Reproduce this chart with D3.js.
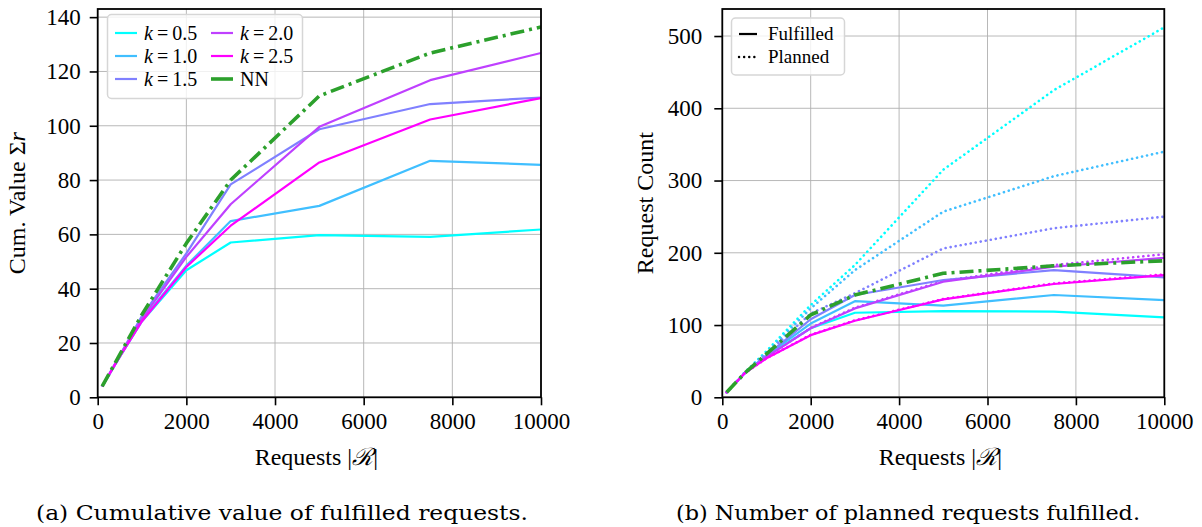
<!DOCTYPE html>
<html><head><meta charset="utf-8">
<script src="https://cdn.jsdelivr.net/npm/d3@7"></script>
<style>
body{margin:0;background:#fff;}
svg text{font-family:"Liberation Serif","Times New Roman",serif;fill:#000;}
</style></head>
<body><svg id="c" width="1202" height="527"></svg>
<script>
const xs = [100, 500, 1000, 2000, 3000, 5000, 7500, 10000];
const kLabels = ["0.5", "1.0", "1.5", "2.0", "2.5"];
const colors = ["#00ffff", "#40bfff", "#8080ff", "#bf40ff", "#ff00ff"];
const nnColor = "#2ca02c";
// (a) cumulative value
const valK05 = [4, 15, 28, 46.8, 57, 59.7, 59.1, 61.8];
const valK10 = [4, 15, 28.5, 48.5, 64.9, 70.5, 87.1, 85.6];
const valK15 = [4, 15.5, 30, 53, 78.4, 98.7, 108, 110.4];
const valK20 = [4, 15.5, 29, 51.7, 71.1, 99.6, 116.8, 126.8];
const valK25 = [4, 15, 28, 48, 63.2, 86.5, 102.3, 110.2];
const valNN  = [4, 15.8, 30.5, 56.7, 80, 111, 126.8, 136.4];
// (b) fulfilled counts
const fulK05 = [7, 33, 57, 95.5, 117, 119.4, 118.5, 110.7];
const fulK10 = [7, 33, 58, 102, 133, 126.8, 141.6, 134.6];
const fulK15 = [7, 33, 58, 108, 141.6, 162.3, 176, 166];
const fulK20 = [7, 33, 56, 95.5, 123, 160, 180.7, 193];
const fulK25 = [7, 33, 54, 86, 106, 135.6, 156.8, 169];
const fulNN  = [7, 33, 60, 114, 141.6, 171.6, 182, 189];
// (b) planned counts
const plaK05 = [7, 34, 64, 127.7, 183, 315, 425, 512];
const plaK10 = [7, 34, 62, 123, 176, 257, 306, 340];
const plaK15 = [7, 33, 60, 116, 144, 206, 234, 250];
const plaK20 = [7, 33, 56, 96, 124, 161, 183, 198];
const plaK25 = [7, 33, 54, 86.5, 106.5, 136, 157.5, 170];

const yTicksA = [0, 20, 40, 60, 80, 100, 120, 140];
const yTicksB = [0, 100, 200, 300, 400, 500];
const xTicks = [0, 2000, 4000, 6000, 8000, 10000];

const svg = d3.select("#c");

function panel(cfg) {
  const g = svg.append("g");
  const x = d3.scaleLinear().domain([0, 10000]).range([cfg.left, cfg.right]);
  const y = d3.scaleLinear().domain([0, cfg.ymax]).range([cfg.bottom, cfg.top]);
  g.append("g").selectAll("line").data(xTicks).join("line")
    .attr("x1", d => x(d)).attr("x2", d => x(d)).attr("y1", cfg.top).attr("y2", cfg.bottom)
    .attr("stroke", "#b0b0b0").attr("stroke-width", 0.9);
  g.append("g").selectAll("line").data(cfg.yTicks).join("line")
    .attr("y1", d => y(d)).attr("y2", d => y(d)).attr("x1", cfg.left).attr("x2", cfg.right)
    .attr("stroke", "#b0b0b0").attr("stroke-width", 0.9);
  const clip = "clip" + cfg.id;
  svg.append("clipPath").attr("id", clip).append("rect")
    .attr("x", cfg.left).attr("y", cfg.top).attr("width", cfg.right - cfg.left).attr("height", cfg.bottom - cfg.top);
  const lines = g.append("g").attr("clip-path", `url(#${clip})`);
  const line = d3.line().x((d, i) => x(xs[i])).y(d => y(d));
  cfg.series.forEach(s => {
    lines.append("path").attr("d", line(s.v)).attr("fill", "none")
      .attr("stroke", s.c).attr("stroke-width", s.w)
      .attr("stroke-dasharray", s.dash || null)
      .attr("stroke-linecap", s.cap || "butt")
      .attr("stroke-linejoin", "round");
  });
  const xa = g.append("g").attr("transform", `translate(0,${cfg.bottom})`)
    .call(d3.axisBottom(x).tickValues(xTicks).tickSize(8).tickPadding(7).tickFormat(d3.format("d")));
  const ya = g.append("g").attr("transform", `translate(${cfg.left},0)`)
    .call(d3.axisLeft(y).tickValues(cfg.yTicks).tickSize(8).tickPadding(cfg.ypad).tickFormat(d3.format("d")));
  [xa, ya].forEach(a => {
    a.attr("font-family", null).attr("font-size", null);
    a.select(".domain").remove();
    a.selectAll("line").attr("stroke", "#000").attr("stroke-width", 1.6);
    a.selectAll("text").style("font-family", '"Liberation Serif",serif').style("font-size", "23px").attr("fill", "#000");
  });
  g.append("rect").attr("x", cfg.left).attr("y", cfg.top).attr("width", cfg.right - cfg.left)
    .attr("height", cfg.bottom - cfg.top).attr("fill", "none").attr("stroke", "#000").attr("stroke-width", 1.8);
  const xl = g.append("text").attr("x", (cfg.left + cfg.right) / 2 - 3).attr("y", 465)
    .attr("text-anchor", "middle").style("font-size", "24px");
  xl.append("tspan").text("Requests |");
  xl.append("tspan").text("ℛ").style("font-style", "italic");
  xl.append("tspan").text("|");
  const yl = g.append("text").attr("transform", `translate(${cfg.ylx},${(cfg.top + cfg.bottom) / 2}) rotate(-90)`)
    .attr("text-anchor", "middle").style("font-size", "24px");
  cfg.ylabel(yl);
  g.append("text").attr("x", cfg.capx).attr("y", 520).attr("text-anchor", "middle")
    .style("font-family", '"DejaVu Serif",serif').style("font-size", "20px").attr("textLength", cfg.capw)
    .attr("lengthAdjust", "spacingAndGlyphs").text(cfg.caption);
  return g;
}

panel({
  id: "a", left: 97.7, right: 541, top: 9, bottom: 397.3, ymax: 143, yTicks: yTicksA, ylx: 25, ypad: 9,
  ylabel: t => { t.append("tspan").text("Cum. Value Σ"); t.append("tspan").text("r").style("font-style", "italic"); },
  capx: 282, capw: 492, caption: "(a) Cumulative value of fulfilled requests.",
  series: [
    {v: valK05, c: colors[0], w: 2.2},
    {v: valK10, c: colors[1], w: 2.2},
    {v: valK15, c: colors[2], w: 2.2},
    {v: valK20, c: colors[3], w: 2.2},
    {v: valK25, c: colors[4], w: 2.2},
    {v: valNN, c: nnColor, w: 3.6, dash: "14,5,3,5"}
  ]
});

panel({
  id: "b", left: 722.3, right: 1164.3, top: 9, bottom: 397.3, ymax: 537.4, yTicks: yTicksB, ylx: 653, ypad: 12,
  ylabel: t => t.text("Request Count"),
  capx: 908, capw: 464, caption: "(b) Number of planned requests fulfilled.",
  series: [
    {v: plaK05, c: colors[0], w: 2.6, dash: "0.1,5", cap: "round"},
    {v: plaK10, c: colors[1], w: 2.6, dash: "0.1,5", cap: "round"},
    {v: plaK15, c: colors[2], w: 2.6, dash: "0.1,5", cap: "round"},
    {v: plaK20, c: colors[3], w: 2.6, dash: "0.1,5", cap: "round"},
    {v: plaK25, c: colors[4], w: 2.6, dash: "0.1,5", cap: "round"},
    {v: fulK05, c: colors[0], w: 2.2},
    {v: fulK10, c: colors[1], w: 2.2},
    {v: fulK15, c: colors[2], w: 2.2},
    {v: fulK20, c: colors[3], w: 2.2},
    {v: fulK25, c: colors[4], w: 2.2},
    {v: fulNN, c: nnColor, w: 3.6, dash: "14,5,3,5"}
  ]
});

// legend (a)
const legA = svg.append("g");
legA.append("rect").attr("x", 107.5).attr("y", 14.5).attr("width", 195).attr("height", 84).attr("rx", 4)
  .attr("fill", "rgba(255,255,255,0.8)").attr("stroke", "#d6d6d6").attr("stroke-width", 1.5);
const legItems = kLabels.map((k, i) => ({k, c: colors[i]})).concat([{k: null, c: nnColor}]);
legItems.forEach((d, i) => {
  const col = Math.floor(i / 3), row = i % 3;
  const lx = 115 + col * 96, ly = 33 + row * 23;
  legA.append("line").attr("x1", lx).attr("x2", lx + 22).attr("y1", ly).attr("y2", ly)
    .attr("stroke", d.c).attr("stroke-width", d.k ? 2.2 : 3.6);
  const t = legA.append("text").attr("x", lx + 29).attr("y", ly + 7).style("font-size", "20px");
  if (d.k) {
    t.append("tspan").text("k").style("font-style", "italic");
    t.append("tspan").text("\u2009=\u2009" + d.k);
  } else t.text("NN");
});

// legend (b)
const legB = svg.append("g");
legB.append("rect").attr("x", 731.5).attr("y", 18).attr("width", 113).attr("height", 57).attr("rx", 4)
  .attr("fill", "rgba(255,255,255,0.8)").attr("stroke", "#d6d6d6").attr("stroke-width", 1.5);
[{t: "Fulfilled", dash: null}, {t: "Planned", dash: "0.1,5"}].forEach((d, i) => {
  const ly = 34 + i * 23;
  legB.append("line").attr("x1", 739).attr("x2", 757).attr("y1", ly).attr("y2", ly)
    .attr("stroke", "#000").attr("stroke-width", d.dash ? 2.4 : 2.2)
    .attr("stroke-dasharray", d.dash).attr("stroke-linecap", d.dash ? "round" : "butt");
  legB.append("text").attr("x", 768).attr("y", ly + 6).style("font-size", "19px").text(d.t);
});
</script></body></html>
